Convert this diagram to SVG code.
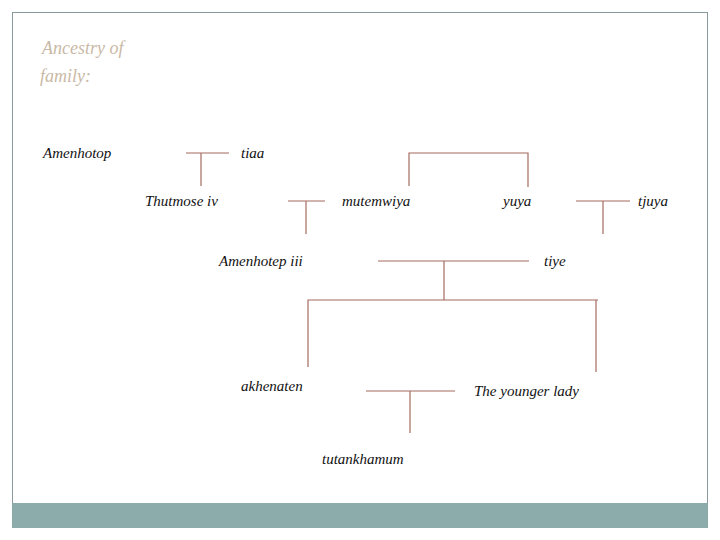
<svg xmlns="http://www.w3.org/2000/svg" width="720" height="540" viewBox="0 0 720 540">
<style>
.l{stroke:#a56b60;stroke-width:1.2;fill:none}
.t{font-family:"Liberation Serif",serif;font-size:15px;fill:#111;font-style:italic}
.h{font-family:"Liberation Serif",serif;font-size:18px;fill:#c9b9a6;font-style:italic}
</style>
<rect x="0" y="0" width="720" height="540" fill="#fff"/>
<rect x="12.5" y="12.5" width="695" height="515" fill="#fff" stroke="#8a9a9a"/>
<rect x="12" y="503" width="696" height="25" fill="#8cabab"/>
<text class="h" x="42" y="54">Ancestry of</text>
<text class="h" x="40" y="82">family:</text>
<g id="connectors">
<path class="l" d="M186 153H229M201 153V186"/>
<path class="l" d="M288 201H325M306 201V234"/>
<path class="l" d="M409 186V153H528V187"/>
<path class="l" d="M576 201H630M603 201V234"/>
<path class="l" d="M378 261H529M444 261V300"/>
<path class="l" d="M308 367V300H598M596 300V372"/>
<path class="l" d="M366 391H455M410 391V433"/>
</g>
<g id="amenhotop"><text class="t" x="43" y="158">Amenhotop</text></g>
<g id="tiaa"><text class="t" x="241" y="158">tiaa</text></g>
<g id="thutmose"><text class="t" x="145" y="206">Thutmose  iv</text></g>
<g id="mutemwiya"><text class="t" x="342" y="206">mutemwiya</text></g>
<g id="yuya"><text class="t" x="503" y="206">yuya</text></g>
<g id="tjuya"><text class="t" x="638" y="206">tjuya</text></g>
<g id="amenhotep3"><text class="t" x="219" y="266">Amenhotep iii</text></g>
<g id="tiye"><text class="t" x="544" y="266">tiye</text></g>
<g id="akhenaten"><text class="t" x="241" y="391">akhenaten</text></g>
<g id="younger"><text class="t" x="474" y="396">The younger lady</text></g>
<g id="tut"><text class="t" x="322" y="464">tutankhamum</text></g>
</svg>
